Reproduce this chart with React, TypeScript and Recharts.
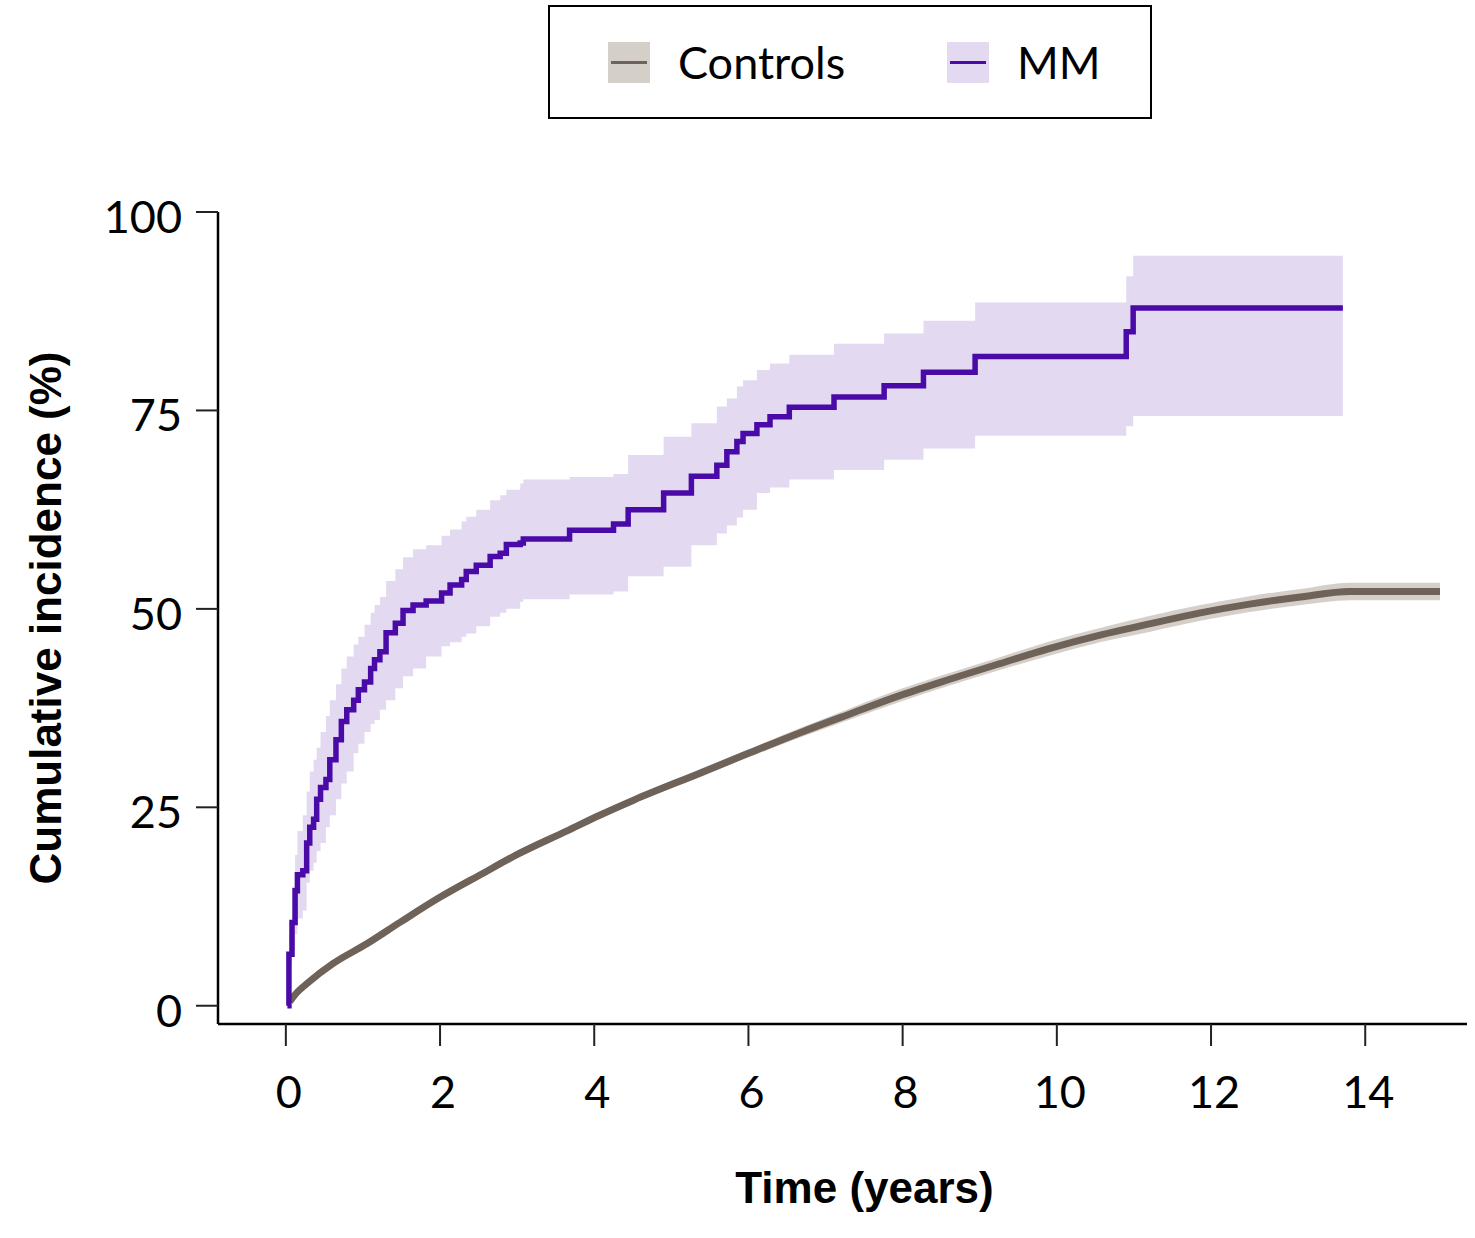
import {
  Area,
  ComposedChart,
  Label,
  Legend,
  Line,
  XAxis,
  YAxis,
} from "recharts";

// MM: cumulative incidence step function with 95% CI
const MM_TIME = [
  0.02, 0.04, 0.08, 0.12, 0.15, 0.22, 0.27, 0.31, 0.36, 0.4, 0.45, 0.52, 0.57, 0.65, 0.72, 0.79,
  0.88, 0.94, 1.02, 1.1, 1.15, 1.22, 1.3, 1.42, 1.52, 1.65, 1.82, 2.02, 2.13, 2.28, 2.34, 2.47,
  2.65, 2.78, 2.86, 3.04, 3.08, 3.68, 4.25, 4.44, 4.9, 5.26, 5.59, 5.72, 5.85, 5.93, 6.11, 6.28,
  6.53, 7.11, 7.76, 8.27, 8.94, 10.9, 10.99, 13.71,
];
const MM_EST = [
  0, 6.5, 10.5, 14.5, 16.5, 17.0, 20.5, 22.5, 23.5, 26.0, 27.5, 28.5, 31.0, 33.5, 35.8, 37.3,
  38.5, 39.8, 40.8, 42.5, 43.6, 44.6, 47.0, 48.2, 49.8, 50.5, 51.0, 52.0, 53.0, 53.7, 54.7, 55.5,
  56.6, 57.0, 58.1, 58.3, 58.8, 59.9, 60.7, 62.5, 64.6, 66.7, 68.1, 69.8, 71.1, 72.1, 73.2, 74.2,
  75.4, 76.7, 78.1, 79.8, 81.8, 84.9, 87.9, 87.9,
];
const MM_LO = [
  0, 5, 7, 9, 11, 12, 15.5, 17, 18, 19.5, 20.5, 22.5, 24, 26, 28, 29.5,
  31.8, 33, 34.5, 35.5, 36, 37.3, 38.5, 40, 41.5, 42.5, 44, 45.3, 45.8, 46.5, 46.9, 47.8,
  49, 49.5, 50, 50.9, 51.2, 51.8, 52.2, 54.1, 55.3, 58, 59.5, 60.5, 61.5, 62.5, 64.6, 65.3,
  66.3, 67.5, 68.8, 70.2, 71.8, 73.0, 74.3, 74.3,
];
const MM_HI = [
  0, 9, 15, 19, 22, 24, 27, 29.5, 31, 32.5, 34.5, 36.5, 38.5, 40.5, 42.5, 44,
  45.5, 46.5, 48, 49.5, 50.5, 51.5, 53.5, 55, 56.5, 57.5, 58, 59.2, 60, 61, 61.6, 62.5,
  63.7, 64.3, 65, 65.8, 66.3, 66.6, 67, 69.4, 71.7, 73.4, 75.5, 76.5, 78, 78.8, 80.1, 80.9,
  82, 83.4, 84.7, 86.3, 88.6, 91.9, 94.5, 94.5,
];

// Controls: smooth cumulative incidence with narrow CI
const CTRL_TIME = [
  0.05, 0.12, 0.3, 0.61, 1.05, 1.48, 1.97, 2.56, 2.99, 3.64, 4.07, 4.51, 5.37, 6.0, 6.67, 7.3,
  7.97, 8.6, 9.26, 9.9, 10.56, 11.2, 11.86, 12.5, 13.16, 13.8, 14.4, 14.97,
];
const CTRL_EST = [
  0.5, 1.4, 3.0, 5.3, 7.8, 10.5, 13.5, 16.7, 19.0, 22.0, 24.0, 25.9, 29.3, 31.8, 34.4, 36.7,
  39.1, 41.1, 43.1, 45.0, 46.7, 48.1, 49.5, 50.6, 51.5, 52.2, 52.2, 52.2,
];
const CTRL_LO = [
  0.4, 1.2, 2.8, 5.0, 7.5, 10.2, 13.2, 16.4, 18.6, 21.6, 23.6, 25.5, 28.8, 31.3, 33.8, 36.0,
  38.3, 40.3, 42.3, 44.1, 45.8, 47.1, 48.5, 49.6, 50.5, 51.1, 51.1, 51.1,
];
const CTRL_HI = [
  0.6, 1.6, 3.2, 5.6, 8.1, 10.8, 13.8, 17.0, 19.4, 22.4, 24.4, 26.3, 29.8, 32.3, 35.0, 37.4,
  39.9, 41.9, 43.9, 45.9, 47.6, 49.1, 50.5, 51.6, 52.5, 53.3, 53.3, 53.3,
];

const X_TICKS = [0, 2, 4, 6, 8, 10, 12, 14];
const Y_TICKS = [0, 25, 50, 75, 100];

const SERIES = [
  { name: "Controls", line: "#6e6259", band: "#d5cfc9" },
  { name: "MM", line: "#4a0aa8", band: "#e3daf1" },
];

const mmData = MM_TIME.map((t, i) => ({ t, est: MM_EST[i], band: [MM_LO[i], MM_HI[i]] }));
const ctrlData = CTRL_TIME.map((t, i) => ({ t, est: CTRL_EST[i], band: [CTRL_LO[i], CTRL_HI[i]] }));

const TICK_FONT = "Lato, 'Open Sans', sans-serif";
const TITLE_FONT = "'Liberation Sans', Arial, sans-serif";

function renderLegend() {
  return (
    <div
      style={{
        width: 604,
        height: 114,
        border: "2px solid #000",
        boxSizing: "border-box",
        display: "flex",
        alignItems: "center",
        paddingLeft: 58,
        background: "#fff",
      }}
    >
      {SERIES.map((s) => (
        <div key={s.name} style={{ display: "flex", alignItems: "center", width: 339, flexShrink: 0 }}>
          <svg width={42} height={41} style={{ flexShrink: 0 }}>
            <rect width={42} height={41} fill={s.band} />
            <line x1={3} x2={39} y1={20.5} y2={20.5} stroke={s.line} strokeWidth={3} />
          </svg>
          <span style={{ marginLeft: 28, fontSize: 45, fontFamily: TICK_FONT, color: "#000", lineHeight: 1 }}>
            {s.name}
          </span>
        </div>
      ))}
    </div>
  );
}

function YTitle(props: any) {
  const { x, y, height } = props.viewBox;
  const cx = x + 61;
  const cy = y + height / 2;
  return (
    <text
      x={cx}
      y={cy}
      transform={`rotate(-90, ${cx}, ${cy})`}
      textAnchor="middle"
      fontFamily={TITLE_FONT}
      fontWeight="bold"
      fontSize={44}
      fill="#000"
    >
      Cumulative incidence (%)
    </text>
  );
}

function XTitle(props: any) {
  const { x, y, width } = props.viewBox;
  return (
    <text
      x={x + width / 2 + 22}
      y={y + 179}
      textAnchor="middle"
      fontFamily={TITLE_FONT}
      fontWeight="bold"
      fontSize={44}
      fill="#000"
    >
      Time (years)
    </text>
  );
}

export default function App() {
  return (
    <div style={{ position: "absolute", left: 0, top: 0, background: "#fff" }}>
      <ComposedChart width={1475} height={1238} margin={{ top: 212, right: 8, bottom: 0, left: 0 }}>
        <XAxis
          type="number"
          dataKey="t"
          domain={[-0.88, 15.32]}
          ticks={X_TICKS}
          allowDataOverflow
          height={214}
          tickSize={22}
          tickMargin={30}
          axisLine={{ stroke: "#000", strokeWidth: 2.5 }}
          tickLine={{ stroke: "#222", strokeWidth: 2 }}
          tick={{ fontSize: 45, fill: "#000", fontFamily: TICK_FONT, dx: 3 }}
        >
          <Label content={XTitle} />
        </XAxis>
        <YAxis
          type="number"
          domain={[-2.3, 100]}
          ticks={Y_TICKS}
          allowDataOverflow
          width={218}
          tickSize={22}
          tickMargin={14}
          axisLine={{ stroke: "#000", strokeWidth: 2.5 }}
          tickLine={{ stroke: "#222", strokeWidth: 2 }}
          tick={{ fontSize: 45, fill: "#000", fontFamily: TICK_FONT, dy: 5 }}
        >
          <Label content={YTitle} />
        </YAxis>
        <Legend
          layout="horizontal"
          verticalAlign="middle"
          align="center"
          content={renderLegend}
          wrapperStyle={{ position: "absolute", top: 5, left: 548, width: 604, height: 114 }}
        />
        <Area
          data={ctrlData}
          dataKey="band"
          type="monotone"
          fill={SERIES[0].band}
          fillOpacity={1}
          stroke="none"
          isAnimationActive={false}
          legendType="none"
        />
        <Area
          data={mmData}
          dataKey="band"
          type="stepAfter"
          fill={SERIES[1].band}
          fillOpacity={1}
          stroke="none"
          isAnimationActive={false}
          legendType="none"
        />
        <Line
          data={ctrlData}
          dataKey="est"
          name="Controls"
          type="monotone"
          stroke={SERIES[0].line}
          strokeWidth={7}
          dot={false}
          isAnimationActive={false}
        />
        <Line
          data={mmData}
          dataKey="est"
          name="MM"
          type="stepAfter"
          stroke={SERIES[1].line}
          strokeWidth={5.5}
          dot={false}
          isAnimationActive={false}
        />
      </ComposedChart>
    </div>
  );
}
